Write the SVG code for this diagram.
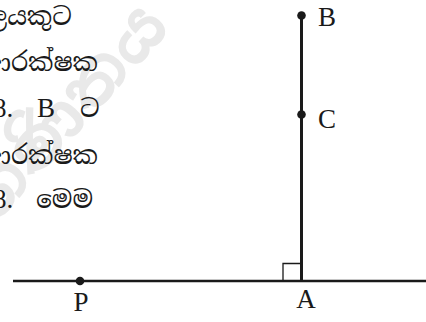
<svg xmlns="http://www.w3.org/2000/svg" width="426" height="322" viewBox="0 0 426 322">
<style>
.si{font-family:"Noto Serif Sinhala","Noto Sans Sinhala","Iskoola Pota",serif;font-size:25px;fill:#1a1a1a}
.lb{font-family:"Liberation Serif","Times New Roman",serif;font-size:27px;fill:#1a1a1a}
.wm{font-family:"Noto Sans Sinhala","Noto Serif Sinhala",sans-serif;font-size:66px;font-weight:bold;fill:#e9e9e9}
.ln{stroke:#1a1a1a;fill:none}
</style>
<rect width="426" height="322" fill="#ffffff"/>
<g id="watermark">
<text class="wm" transform="translate(-6,226) rotate(-48)">ගණිතය</text>
</g>
<g id="text">
<text class="si" x="-14" y="25">ලයකුට</text>
<text class="si" x="-16" y="71">ආරක්ෂක</text>
<text class="lb" x="-7" y="117">8.</text>
<text class="lb" x="37" y="117">B</text>
<text class="si" x="80" y="117">ට</text>
<text class="si" x="-16" y="164">ආරක්ෂක</text>
<text class="lb" x="-7" y="208">8.</text>
<text class="si" x="36" y="208">මෙම</text>
</g>
<g id="connectors">
<line class="ln" x1="13" y1="281" x2="426" y2="281" stroke-width="2.7"/>
<line class="ln" x1="301.5" y1="15" x2="301.5" y2="281" stroke-width="3"/>
<polyline class="ln" points="283,281 283,263.5 301,263.5" stroke-width="1.3"/>
</g>
<g id="node-B">
<circle cx="301.5" cy="15.5" r="4.3" fill="#1a1a1a"/>
<text class="lb" x="318" y="26">B</text>
</g>
<g id="node-C">
<circle cx="301.5" cy="114.5" r="4.3" fill="#1a1a1a"/>
<text class="lb" x="318" y="128">C</text>
</g>
<g id="node-P">
<circle cx="80" cy="281" r="4.3" fill="#1a1a1a"/>
<text class="lb" x="81" y="311" text-anchor="middle">P</text>
</g>
<g id="node-A">
<text class="lb" x="306" y="308" text-anchor="middle">A</text>
</g>
</svg>
